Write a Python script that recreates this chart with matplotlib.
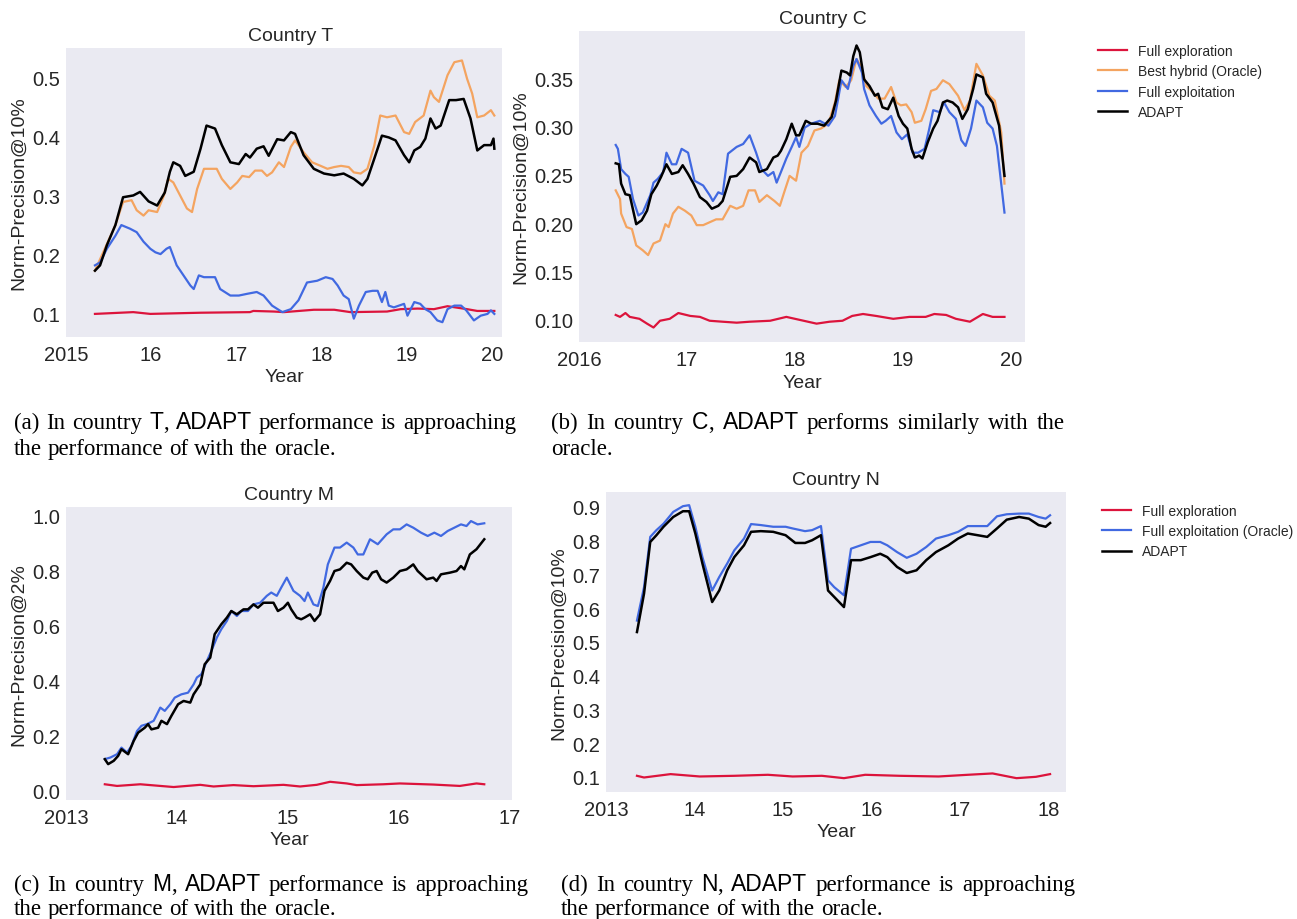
import matplotlib
matplotlib.use("Agg")
import matplotlib.pyplot as plt

# ---- Country T (panel a) ----
t_adapt_x = [2015.34, 2015.4, 2015.48, 2015.58, 2015.67, 2015.79, 2015.87, 2015.97, 2016.07, 2016.16, 2016.22,
             2016.26, 2016.34, 2016.4, 2016.5, 2016.58, 2016.65, 2016.75, 2016.83, 2016.93, 2017.03, 2017.11,
             2017.16, 2017.24, 2017.32, 2017.38, 2017.48, 2017.56, 2017.64, 2017.69, 2017.79, 2017.91, 2018.03,
             2018.15, 2018.26, 2018.38, 2018.48, 2018.54, 2018.62, 2018.71, 2018.79, 2018.87, 2018.97, 2019.03,
             2019.09, 2019.16, 2019.22, 2019.28, 2019.34, 2019.4, 2019.5, 2019.58, 2019.67, 2019.75, 2019.83,
             2019.91, 2019.99, 2020.02, 2020.03]
t_adapt_y = [0.173, 0.182, 0.216, 0.25, 0.297, 0.30, 0.306, 0.29, 0.283, 0.305, 0.34,
             0.356, 0.35, 0.333, 0.34, 0.379, 0.418, 0.413, 0.385, 0.356, 0.353, 0.37,
             0.364, 0.379, 0.383, 0.367, 0.395, 0.393, 0.407, 0.404, 0.368, 0.345, 0.337,
             0.334, 0.337, 0.328, 0.317, 0.328, 0.362, 0.401, 0.398, 0.393, 0.368, 0.356,
             0.376, 0.382, 0.396, 0.43, 0.413, 0.418, 0.461, 0.461, 0.463, 0.43, 0.376,
             0.385, 0.385, 0.396, 0.379]

t_hybrid_x = [2015.34, 2015.58, 2015.67, 2015.77, 2015.83, 2015.91, 2015.97, 2016.07, 2016.15, 2016.2, 2016.26,
              2016.34, 2016.42, 2016.48, 2016.54, 2016.62, 2016.69, 2016.77, 2016.83, 2016.93, 2017.01, 2017.07,
              2017.15, 2017.22, 2017.3, 2017.36, 2017.42, 2017.5, 2017.56, 2017.64, 2017.69, 2017.79, 2017.89,
              2017.99, 2018.07, 2018.15, 2018.23, 2018.32, 2018.38, 2018.46, 2018.54, 2018.62, 2018.69, 2018.77,
              2018.87, 2018.97, 2019.03, 2019.1, 2019.2, 2019.28, 2019.32, 2019.38, 2019.48, 2019.56, 2019.65,
              2019.71, 2019.77, 2019.83, 2019.91, 2019.99, 2020.03]
t_hybrid_y = [0.173, 0.25, 0.289, 0.292, 0.275, 0.266, 0.275, 0.272, 0.30, 0.328, 0.322,
              0.30, 0.278, 0.272, 0.311, 0.345, 0.345, 0.345, 0.328, 0.311, 0.322, 0.333,
              0.331, 0.342, 0.342, 0.333, 0.339, 0.356, 0.348, 0.382, 0.393, 0.373, 0.356,
              0.35, 0.345, 0.348, 0.35, 0.348, 0.339, 0.337, 0.345, 0.384, 0.435, 0.432,
              0.435, 0.407, 0.404, 0.424, 0.435, 0.477, 0.466, 0.458, 0.503, 0.525, 0.528,
              0.497, 0.472, 0.432, 0.435, 0.444, 0.435]

t_exploit_x = [2015.34, 2015.4, 2015.48, 2015.58, 2015.65, 2015.75, 2015.83, 2015.91, 2015.99, 2016.05, 2016.11,
               2016.18, 2016.22, 2016.3, 2016.38, 2016.46, 2016.5, 2016.56, 2016.62, 2016.75, 2016.81, 2016.93,
               2017.03, 2017.13, 2017.24, 2017.32, 2017.42, 2017.54, 2017.64, 2017.73, 2017.83, 2017.95, 2018.05,
               2018.13, 2018.19, 2018.26, 2018.32, 2018.38, 2018.44, 2018.52, 2018.6, 2018.66, 2018.71, 2018.75,
               2018.79, 2018.85, 2018.97, 2019.01, 2019.09, 2019.16, 2019.22, 2019.28, 2019.36, 2019.42, 2019.48,
               2019.56, 2019.64, 2019.7, 2019.79, 2019.87, 2019.95, 2019.99, 2020.03]
t_exploit_y = [0.182, 0.187, 0.21, 0.232, 0.25, 0.244, 0.238, 0.222, 0.21, 0.204, 0.201,
               0.21, 0.213, 0.182, 0.165, 0.148, 0.142, 0.165, 0.162, 0.162, 0.142, 0.131,
               0.131, 0.134, 0.137, 0.131, 0.114, 0.103, 0.108, 0.123, 0.153, 0.156, 0.162,
               0.159, 0.148, 0.131, 0.125, 0.092, 0.114, 0.137, 0.139, 0.139, 0.12, 0.137,
               0.114, 0.111, 0.117, 0.097, 0.12, 0.117, 0.108, 0.103, 0.089, 0.086, 0.108,
               0.114, 0.114, 0.106, 0.089, 0.097, 0.10, 0.106, 0.10]

t_explore_x = [2015.34, 2015.79, 2015.99, 2016.58, 2017.16, 2017.2, 2017.44, 2017.56, 2017.91, 2018.15, 2018.34,
               2018.77, 2018.93, 2019.13, 2019.32, 2019.48, 2019.71, 2019.83, 2020.03]
t_explore_y = [0.10, 0.103, 0.10, 0.102, 0.103, 0.105, 0.104, 0.103, 0.107, 0.107, 0.103,
               0.104, 0.108, 0.109, 0.108, 0.113, 0.108, 0.105, 0.105]

# ---- Country C (panel b) ----
c_adapt_x = [2016.34, 2016.37, 2016.39, 2016.43, 2016.47, 2016.53, 2016.58, 2016.63, 2016.67, 2016.72, 2016.76,
             2016.81, 2016.86, 2016.92, 2016.96, 2017.01, 2017.06, 2017.12, 2017.18, 2017.23, 2017.29, 2017.33,
             2017.4, 2017.46, 2017.52, 2017.58, 2017.64, 2017.67, 2017.74, 2017.8, 2017.84, 2017.87, 2017.92,
             2017.97, 2018.01, 2018.04, 2018.1, 2018.15, 2018.21, 2018.27, 2018.34, 2018.38, 2018.43, 2018.48,
             2018.51, 2018.54, 2018.57, 2018.6, 2018.64, 2018.69, 2018.74, 2018.77, 2018.81, 2018.86, 2018.91,
             2018.96, 2019.0, 2019.04, 2019.08, 2019.11, 2019.15, 2019.18, 2019.23, 2019.28, 2019.32, 2019.37,
             2019.41, 2019.46, 2019.51, 2019.55, 2019.6, 2019.65, 2019.68, 2019.74, 2019.77, 2019.83, 2019.89,
             2019.94]
c_adapt_y = [0.262, 0.261, 0.241, 0.23, 0.229, 0.199, 0.203, 0.213, 0.23, 0.239, 0.248,
             0.261, 0.251, 0.253, 0.26, 0.251, 0.241, 0.227, 0.222, 0.215, 0.218, 0.223,
             0.248, 0.249, 0.256, 0.268, 0.263, 0.253, 0.256, 0.268, 0.27, 0.275, 0.287,
             0.303, 0.291, 0.291, 0.306, 0.303, 0.303, 0.301, 0.31, 0.327, 0.358, 0.356,
             0.353, 0.373, 0.384, 0.377, 0.349, 0.342, 0.332, 0.334, 0.32, 0.318, 0.33,
             0.311, 0.303, 0.298, 0.277, 0.268, 0.27, 0.267, 0.284, 0.298, 0.306, 0.325,
             0.327, 0.325, 0.32, 0.308, 0.318, 0.339, 0.354, 0.351, 0.334, 0.325, 0.301,
             0.249]

c_hybrid_x = [2016.34, 2016.38, 2016.39, 2016.44, 2016.49, 2016.53, 2016.59, 2016.64, 2016.69, 2016.75, 2016.8,
              2016.83, 2016.87, 2016.92, 2016.98, 2017.04, 2017.09, 2017.15, 2017.21, 2017.27, 2017.33, 2017.4,
              2017.46, 2017.52, 2017.57, 2017.63, 2017.67, 2017.74, 2017.81, 2017.86, 2017.9, 2017.95, 2018.01,
              2018.06, 2018.12, 2018.18, 2018.24, 2018.31, 2018.37, 2018.41, 2018.47, 2018.52, 2018.57, 2018.61,
              2018.66, 2018.72, 2018.77, 2018.83, 2018.89, 2018.94, 2018.98, 2019.03, 2019.08, 2019.11, 2019.17,
              2019.21, 2019.26, 2019.31, 2019.37, 2019.43, 2019.51, 2019.57, 2019.62, 2019.68, 2019.74, 2019.8,
              2019.85, 2019.91, 2019.94]
c_hybrid_y = [0.234, 0.225, 0.21, 0.196, 0.194, 0.177, 0.172, 0.167, 0.179, 0.182, 0.199,
              0.196, 0.21, 0.217, 0.213, 0.208, 0.198, 0.198, 0.201, 0.204, 0.204, 0.218,
              0.215, 0.218, 0.234, 0.234, 0.222, 0.229, 0.223, 0.218, 0.232, 0.249, 0.244,
              0.273, 0.28, 0.296, 0.298, 0.303, 0.325, 0.348, 0.341, 0.348, 0.37, 0.363,
              0.342, 0.336, 0.329, 0.329, 0.341, 0.325, 0.322, 0.323, 0.315, 0.304, 0.306,
              0.318, 0.337, 0.339, 0.348, 0.344, 0.332, 0.317, 0.327, 0.365, 0.353, 0.332,
              0.327, 0.294, 0.241]

c_exploit_x = [2016.34, 2016.36, 2016.39, 2016.43, 2016.46, 2016.5, 2016.55, 2016.59, 2016.66, 2016.69, 2016.73,
               2016.78, 2016.81, 2016.86, 2016.9, 2016.95, 2017.01, 2017.07, 2017.15, 2017.21, 2017.24, 2017.29,
               2017.33, 2017.38, 2017.46, 2017.52, 2017.58, 2017.64, 2017.69, 2017.75, 2017.8, 2017.83, 2017.87,
               2017.92, 2017.97, 2018.01, 2018.04, 2018.09, 2018.15, 2018.23, 2018.31, 2018.37, 2018.4, 2018.43,
               2018.49, 2018.54, 2018.57, 2018.62, 2018.64, 2018.69, 2018.75, 2018.8, 2018.84, 2018.89, 2018.94,
               2018.99, 2019.04, 2019.09, 2019.14, 2019.2, 2019.24, 2019.28, 2019.34, 2019.38, 2019.43, 2019.49,
               2019.54, 2019.58, 2019.63, 2019.68, 2019.74, 2019.78, 2019.83, 2019.87, 2019.94]
c_exploit_y = [0.281, 0.277, 0.256, 0.251, 0.248, 0.225, 0.208, 0.211, 0.229, 0.242, 0.246,
               0.253, 0.273, 0.261, 0.261, 0.277, 0.273, 0.244, 0.239, 0.229, 0.223, 0.232,
               0.23, 0.272, 0.279, 0.282, 0.291, 0.273, 0.256, 0.249, 0.253, 0.242, 0.253,
               0.267, 0.279, 0.289, 0.279, 0.299, 0.303, 0.306, 0.301, 0.311, 0.329, 0.348,
               0.339, 0.363, 0.37, 0.356, 0.339, 0.322, 0.311, 0.303, 0.306, 0.311, 0.294,
               0.287, 0.292, 0.273, 0.273, 0.277, 0.296, 0.317, 0.315, 0.325, 0.315, 0.308,
               0.286, 0.28, 0.298, 0.327, 0.32, 0.304, 0.298, 0.28, 0.211]

c_explore_x = [2016.34, 2016.38, 2016.43, 2016.47, 2016.56, 2016.63, 2016.69, 2016.75, 2016.84, 2016.92, 2017.03,
               2017.12, 2017.21, 2017.33, 2017.46, 2017.58, 2017.77, 2017.92, 2018.04, 2018.2, 2018.32, 2018.44,
               2018.53, 2018.63, 2018.75, 2018.91, 2019.06, 2019.21, 2019.29, 2019.4, 2019.49, 2019.62, 2019.74,
               2019.83, 2019.94]
c_explore_y = [0.105, 0.103, 0.107, 0.103, 0.101, 0.096, 0.092, 0.099, 0.101, 0.107, 0.104,
               0.103, 0.099, 0.098, 0.097, 0.098, 0.099, 0.103, 0.10, 0.096, 0.098, 0.099,
               0.104, 0.106, 0.104, 0.101, 0.103, 0.103, 0.106, 0.105, 0.101, 0.098, 0.106,
               0.103, 0.103]

# ---- Country M (panel c) ----
m_exploit_x = [2013.35, 2013.4, 2013.46, 2013.5, 2013.55, 2013.59, 2013.64, 2013.68, 2013.73, 2013.79, 2013.85,
               2013.89, 2013.94, 2013.98, 2014.04, 2014.1, 2014.15, 2014.18, 2014.22, 2014.27, 2014.31, 2014.36,
               2014.4, 2014.45, 2014.49, 2014.54, 2014.58, 2014.64, 2014.69, 2014.75, 2014.81, 2014.85, 2014.9,
               2014.94, 2014.99, 2015.02, 2015.05, 2015.11, 2015.15, 2015.18, 2015.23, 2015.27, 2015.32, 2015.36,
               2015.42, 2015.47, 2015.53, 2015.59, 2015.63, 2015.68, 2015.74, 2015.81, 2015.89, 2015.95, 2016.01,
               2016.07, 2016.13, 2016.2, 2016.26, 2016.32, 2016.38, 2016.44, 2016.5, 2016.56, 2016.61, 2016.65,
               2016.71, 2016.77]
m_exploit_y = [0.115, 0.121, 0.133, 0.157, 0.139, 0.163, 0.217, 0.236, 0.242, 0.254, 0.302,
               0.29, 0.314, 0.338, 0.35, 0.356, 0.386, 0.411, 0.423, 0.471, 0.507, 0.556,
               0.586, 0.616, 0.652, 0.634, 0.652, 0.652, 0.676, 0.682, 0.707, 0.719, 0.707,
               0.737, 0.773, 0.749, 0.725, 0.707, 0.688, 0.719, 0.676, 0.67, 0.737, 0.821,
               0.882, 0.882, 0.90, 0.882, 0.857, 0.857, 0.912, 0.894, 0.93, 0.948, 0.948,
               0.966, 0.954, 0.936, 0.924, 0.936, 0.924, 0.942, 0.954, 0.966, 0.96, 0.978,
               0.966, 0.97]

m_adapt_x = [2013.35, 2013.38, 2013.43, 2013.47, 2013.5, 2013.56, 2013.61, 2013.65, 2013.71, 2013.74, 2013.77,
             2013.83, 2013.86, 2013.91, 2013.95, 2014.01, 2014.06, 2014.12, 2014.15, 2014.21, 2014.25, 2014.3,
             2014.34, 2014.4, 2014.45, 2014.49, 2014.54, 2014.6, 2014.64, 2014.69, 2014.73, 2014.78, 2014.82,
             2014.87, 2014.91, 2014.96, 2015.0, 2015.03, 2015.08, 2015.12, 2015.15, 2015.2, 2015.24, 2015.29,
             2015.33, 2015.38, 2015.42, 2015.47, 2015.53, 2015.57, 2015.62, 2015.68, 2015.72, 2015.76, 2015.8,
             2015.84, 2015.89, 2015.95, 2016.01, 2016.07, 2016.13, 2016.17, 2016.25, 2016.31, 2016.34, 2016.38,
             2016.46, 2016.52, 2016.56, 2016.59, 2016.64, 2016.7, 2016.77]
m_adapt_y = [0.115, 0.097, 0.109, 0.127, 0.151, 0.133, 0.181, 0.211, 0.229, 0.242, 0.223,
             0.229, 0.254, 0.242, 0.272, 0.314, 0.326, 0.32, 0.35, 0.386, 0.459, 0.483,
             0.568, 0.604, 0.628, 0.652, 0.64, 0.658, 0.658, 0.676, 0.664, 0.682, 0.682,
             0.682, 0.652, 0.664, 0.682, 0.658, 0.628, 0.622, 0.628, 0.64, 0.616, 0.64,
             0.725, 0.761, 0.797, 0.803, 0.827, 0.821, 0.797, 0.773, 0.767, 0.791, 0.797,
             0.767, 0.755, 0.773, 0.797, 0.803, 0.821, 0.797, 0.767, 0.773, 0.761, 0.785,
             0.791, 0.797, 0.815, 0.803, 0.857, 0.876, 0.912]

m_explore_x = [2013.35, 2013.46, 2013.67, 2013.97, 2014.21, 2014.33, 2014.51, 2014.69, 2014.96, 2015.11, 2015.26,
               2015.38, 2015.53, 2015.62, 2015.86, 2016.01, 2016.31, 2016.55, 2016.7, 2016.77]
m_explore_y = [0.024, 0.018, 0.024, 0.014, 0.022, 0.016, 0.021, 0.017, 0.022, 0.016, 0.022,
               0.033, 0.027, 0.021, 0.024, 0.027, 0.023, 0.018, 0.027, 0.024]

# ---- Country N (panel d) ----
n_exploit_x = [2013.35, 2013.43, 2013.5, 2013.57, 2013.65, 2013.76, 2013.87, 2013.94, 2014.01, 2014.09, 2014.2,
               2014.28, 2014.37, 2014.45, 2014.56, 2014.64, 2014.75, 2014.89, 2015.03, 2015.11, 2015.25, 2015.33,
               2015.43, 2015.51, 2015.58, 2015.69, 2015.77, 2015.88, 2015.99, 2016.1, 2016.18, 2016.29, 2016.4,
               2016.51, 2016.62, 2016.73, 2016.87, 2016.98, 2017.09, 2017.2, 2017.31, 2017.42, 2017.53, 2017.67,
               2017.78, 2017.89, 2017.97, 2018.02]
n_exploit_y = [0.563, 0.662, 0.811, 0.831, 0.85, 0.885, 0.902, 0.905, 0.841, 0.751, 0.652,
               0.692, 0.732, 0.771, 0.806, 0.849, 0.846, 0.841, 0.841, 0.836, 0.828, 0.831,
               0.843, 0.682, 0.662, 0.638, 0.776, 0.786, 0.796, 0.796, 0.786, 0.766, 0.749,
               0.761, 0.781, 0.806, 0.816, 0.826, 0.843, 0.843, 0.843, 0.872, 0.878, 0.88,
               0.88, 0.87, 0.865, 0.875]

n_adapt_x = [2013.35, 2013.43, 2013.5, 2013.57, 2013.65, 2013.76, 2013.87, 2013.94, 2014.01, 2014.09, 2014.2,
             2014.28, 2014.37, 2014.45, 2014.56, 2014.64, 2014.75, 2014.89, 2015.03, 2015.14, 2015.25, 2015.33,
             2015.43, 2015.51, 2015.58, 2015.69, 2015.77, 2015.88, 2015.99, 2016.1, 2016.18, 2016.29, 2016.4,
             2016.51, 2016.62, 2016.73, 2016.87, 2016.98, 2017.09, 2017.2, 2017.31, 2017.42, 2017.53, 2017.67,
             2017.78, 2017.89, 2017.97, 2018.02]
n_adapt_y = [0.529, 0.643, 0.796, 0.816, 0.841, 0.87, 0.887, 0.887, 0.821, 0.732, 0.618,
             0.652, 0.712, 0.751, 0.786, 0.826, 0.828, 0.826, 0.816, 0.793, 0.793, 0.801,
             0.816, 0.652, 0.633, 0.603, 0.742, 0.742, 0.751, 0.761, 0.751, 0.722, 0.704,
             0.712, 0.742, 0.766, 0.786, 0.806, 0.821, 0.816, 0.811, 0.836, 0.862, 0.87,
             0.865, 0.846, 0.841, 0.852]

n_explore_x = [2013.35, 2013.43, 2013.73, 2014.06, 2014.45, 2014.83, 2015.11, 2015.44, 2015.69, 2015.93, 2016.32,
               2016.76, 2017.09, 2017.37, 2017.64, 2017.86, 2018.02]
n_explore_y = [0.103, 0.098, 0.108, 0.101, 0.103, 0.106, 0.101, 0.103, 0.096, 0.106, 0.103,
               0.101, 0.106, 0.11, 0.096, 0.10, 0.108]

RED, ORANGE, BLUE, BLACK = "crimson", "sandybrown", "royalblue", "black"
TXT = "#262626"

plt.rcParams["font.family"] = ["Liberation Sans", "DejaVu Sans"]
plt.rcParams["text.color"] = TXT

W, H = 1297, 920
fig = plt.figure(figsize=(W / 100, H / 100), dpi=100)


def pix_axes(x0, y0, x1, y1):
    return fig.add_axes([x0 / W, 1 - y1 / H, (x1 - x0) / W, (y1 - y0) / H])


def style(ax, title, title_x, xlim, ylim, xticks, xlabels, yticks, yfmt, ylabel):
    ax.set_facecolor("#EAEAF2")
    for s in ax.spines.values():
        s.set_visible(False)
    ax.set_xlim(*xlim)
    ax.set_ylim(*ylim)
    ax.set_xticks(xticks)
    ax.set_xticklabels(xlabels)
    ax.set_yticks(yticks)
    ax.set_yticklabels([yfmt % v for v in yticks])
    ax.tick_params(length=0, labelsize=14.5, labelcolor=TXT)
    ax.tick_params(axis="x", pad=6)
    ax.tick_params(axis="y", pad=4)
    ax.set_title(title, fontsize=14, color=TXT, pad=6, x=title_x)
    ax.set_xlabel("Year", fontsize=14, color=TXT, labelpad=3)
    ax.set_ylabel(ylabel, fontsize=14, color=TXT, labelpad=4)


def legend(handles, x, y):
    fig.legend(handles=handles, loc="upper left", bbox_to_anchor=(x / W, 1 - y / H),
               frameon=False, fontsize=10, handlelength=2.1, handletextpad=0.8, labelspacing=0.45,
               borderpad=0, borderaxespad=0)


# panel a
ax = pix_axes(66, 49, 502, 338)
ax.plot(t_explore_x, t_explore_y, color=RED, lw=1.6)
ax.plot(t_hybrid_x, t_hybrid_y, color=ORANGE, lw=1.6)
ax.plot(t_exploit_x, t_exploit_y, color=BLUE, lw=1.6)
ax.plot(t_adapt_x, t_adapt_y, color=BLACK, lw=1.8)
style(ax, "Country T", 0.515, (2015, 2020.12), (0.061, 0.549), [2015, 2016, 2017, 2018, 2019, 2020],
      ["2015", "16", "17", "18", "19", "20"], [0.1, 0.2, 0.3, 0.4, 0.5], "%.1f", "Norm-Precision@10%")

# panel b
ax = pix_axes(579, 32, 1025, 343)
l1, = ax.plot(c_explore_x, c_explore_y, color=RED, lw=1.6, label="Full exploration")
l2, = ax.plot(c_hybrid_x, c_hybrid_y, color=ORANGE, lw=1.6, label="Best hybrid (Oracle)")
l3, = ax.plot(c_exploit_x, c_exploit_y, color=BLUE, lw=1.6, label="Full exploitation")
l4, = ax.plot(c_adapt_x, c_adapt_y, color=BLACK, lw=1.8, label="ADAPT")
style(ax, "Country C", 0.547, (2016, 2020.13), (0.077, 0.399), [2016, 2017, 2018, 2019, 2020],
      ["2016", "17", "18", "19", "20"], [0.10, 0.15, 0.20, 0.25, 0.30, 0.35], "%.2f", "Norm-Precision@10%")
legend([l1, l2, l3, l4], 1098, 45)

# panel c
ax = pix_axes(66, 508, 512, 801)
ax.plot(m_explore_x, m_explore_y, color=RED, lw=1.6)
ax.plot(m_exploit_x, m_exploit_y, color=BLUE, lw=1.6)
ax.plot(m_adapt_x, m_adapt_y, color=BLACK, lw=1.8)
style(ax, "Country M", 0.5, (2013, 2017.02), (-0.033, 1.029), [2013, 2014, 2015, 2016, 2017],
      ["2013", "14", "15", "16", "17"], [0.0, 0.2, 0.4, 0.6, 0.8, 1.0], "%.1f", "Norm-Precision@2%")

# panel d
ax = pix_axes(606, 493, 1066, 793)
k1, = ax.plot(n_explore_x, n_explore_y, color=RED, lw=1.6, label="Full exploration")
k2, = ax.plot(n_exploit_x, n_exploit_y, color=BLUE, lw=1.6, label="Full exploitation (Oracle)")
k3, = ax.plot(n_adapt_x, n_adapt_y, color=BLACK, lw=1.8, label="ADAPT")
style(ax, "Country N", 0.5, (2013, 2018.2), (0.055, 0.944), [2013, 2014, 2015, 2016, 2017, 2018],
      ["2013", "14", "15", "16", "17", "18"], [0.1, 0.2, 0.3, 0.4, 0.5, 0.6, 0.7, 0.8, 0.9], "%.1f",
      "Norm-Precision@10%")
legend([k1, k2, k3], 1102, 505)

# captions: serif text, |...| marks words set in sans
renderer = fig.canvas.get_renderer()
CAP = 16.5


def caption_line(x0, base, text, width=None):
    words = []
    for w in text.split(" "):
        segs = []
        for i, s in enumerate(w.split("|")):
            if s:
                fam = ["Liberation Sans"] if i % 2 else ["Liberation Serif"]
                t = fig.text(0, 1 - base / H, s, family=fam, fontsize=CAP, color="black", va="baseline")
                segs.append((t, t.get_window_extent(renderer).width))
        words.append(segs)
    wsum = [sum(w for _, w in segs) for segs in words]
    gap = CAP * 100 / 72 * 0.25
    if width is not None and len(words) > 1:
        gap = (width - sum(wsum)) / (len(words) - 1)
    x = x0
    for segs, ww in zip(words, wsum):
        xx = x
        for t, w in segs:
            t.set_x(xx / W)
            xx += w
        x += ww + gap


caption_line(14, 429, "(a) In country |T|, |ADAPT| performance is approaching", 502)
caption_line(14, 455, "the performance of with the oracle.")
caption_line(551, 429, "(b) In country |C|, |ADAPT| performs similarly with the", 514)
caption_line(551, 455, "oracle.")
caption_line(14, 891, "(c) In country |M|, |ADAPT| performance is approaching", 514)
caption_line(14, 915, "the performance of with the oracle.")
caption_line(561, 891, "(d) In country |N|, |ADAPT| performance is approaching", 514)
caption_line(561, 915, "the performance of with the oracle.")

fig.savefig("out.png", dpi=100)
